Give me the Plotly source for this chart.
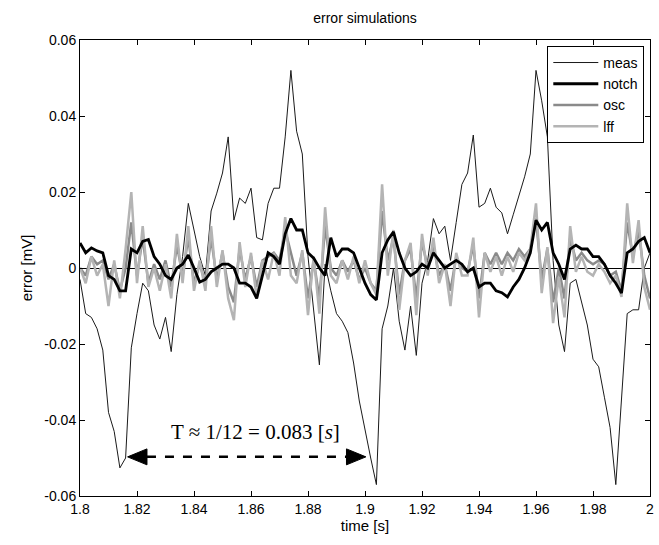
import numpy as np
import plotly.graph_objects as go

# ---------------- data ----------------
t0, dt, n = 1.8, 0.002, 101
time = [round(t0 + dt * k, 3) for k in range(n)]

meas = [-0.003, -0.012, -0.013, -0.016, -0.0216, -0.038, -0.043, -0.0526, -0.050, -0.021,
        -0.012, -0.004, -0.006, -0.015, -0.0187, -0.013, -0.022, -0.007, 0.003, 0.017,
        0.010, 0.003, -0.002, 0.015, 0.0197, 0.025, 0.0345, 0.0126, 0.0184, 0.017,
        0.021, 0.008, 0.0074, 0.017, 0.021, 0.021, 0.0345, 0.052, 0.036, 0.030,
        0.003, -0.012, -0.0255, 0.001, -0.006, -0.012, -0.014, -0.017, -0.025, -0.035,
        -0.043, -0.050, -0.057, -0.016, -0.010, 0.000, -0.014, -0.0216, -0.010, -0.023,
        -0.004, 0.002, 0.013, 0.009, 0.011, 0.002, 0.012, 0.022, 0.025, 0.035,
        0.016, 0.017, 0.021, 0.016, 0.0145, 0.009, 0.014, 0.019, 0.024, 0.030,
        0.052, 0.044, 0.0345, 0.002, -0.015, -0.022, -0.004, -0.003, -0.009, -0.015,
        -0.024, -0.026, -0.034, -0.042, -0.057, -0.035, -0.012, -0.011, -0.011, 0.000,
        0.004]

notch = [0.0066, 0.004, 0.0053, 0.0045, 0.004, -0.002, -0.003, -0.006, -0.006, 0.005,
         0.004, 0.007, 0.0075, 0.003, 0.001, -0.002, -0.003, 0.000, 0.001, 0.0034,
         0.000, -0.0037, -0.003, -0.001, 0.000, 0.001, 0.001, 0.000, -0.004, -0.004,
         -0.005, -0.008, -0.002, 0.004, 0.003, 0.001, 0.009, 0.013, 0.010, 0.010,
         0.004, 0.0026, 0.000, -0.002, 0.008, 0.003, 0.005, 0.005, 0.004, 0.000,
         -0.004, -0.007, -0.0084, 0.004, 0.0074, 0.0095, 0.004, 0.000, -0.002, -0.001,
         0.001, 0.000, 0.004, 0.002, 0.000, 0.001, 0.002, 0.001, -0.001, 0.000,
         -0.005, -0.004, -0.004, -0.006, -0.0065, -0.0076, -0.005, -0.003, 0.000, 0.004,
         0.0126, 0.010, 0.012, 0.004, 0.001, -0.003, 0.005, 0.006, 0.005, 0.005,
         0.003, 0.003, 0.001, -0.002, -0.004, -0.0066, 0.004, 0.005, 0.007, 0.008,
         0.004]

osc = [0.000, -0.002, 0.003, 0.001, 0.002, -0.003, 0.001, -0.006, 0.000, 0.012,
       -0.002, 0.008, -0.004, 0.001, -0.003, 0.002, -0.005, 0.006, -0.002, 0.008,
       -0.004, 0.001, -0.004, 0.008, -0.003, 0.004, -0.005, -0.009, 0.005, -0.003,
       0.003, -0.005, 0.002, 0.003, 0.004, 0.002, 0.010, 0.004, -0.002, 0.004,
       -0.008, 0.002, -0.008, 0.011, 0.000, -0.002, 0.002, -0.001, 0.002, -0.003,
       0.000, -0.004, -0.006, 0.015, 0.002, 0.008, -0.007, 0.002, 0.005, -0.008,
       0.007, 0.000, 0.006, -0.002, 0.001, -0.006, 0.003, 0.000, -0.001, 0.006,
       -0.008, 0.004, 0.001, 0.004, 0.001, 0.004, 0.002, 0.005, 0.003, 0.005,
       0.013, -0.003, 0.005, -0.009, 0.000, -0.008, 0.008, 0.002, 0.004, 0.002,
       0.001, 0.002, 0.001, -0.002, -0.001, -0.006, 0.012, 0.003, 0.010, -0.002,
       -0.008]

lff = [0.000, -0.004, 0.003, -0.002, 0.001, -0.010, 0.002, -0.008, 0.005, 0.020,
       -0.004, 0.011, -0.005, 0.000, -0.006, 0.001, -0.008, 0.009, -0.004, 0.011,
       -0.006, 0.002, -0.006, 0.011, -0.005, 0.0047, -0.008, -0.0137, 0.0068, -0.005,
       0.004, -0.008, 0.002, -0.003, 0.004, -0.002, 0.0134, -0.002, -0.004, 0.0047,
       -0.0124, 0.003, -0.012, 0.016, -0.002, -0.004, 0.002, -0.003, 0.003, -0.004,
       0.002, -0.004, -0.007, 0.022, -0.002, 0.010, -0.011, 0.002, 0.0066, -0.0124,
       0.009, -0.002, 0.008, -0.004, 0.001, -0.010, 0.004, -0.002, -0.002, 0.008,
       -0.013, 0.004, -0.001, 0.003, -0.002, 0.003, -0.001, 0.004, 0.002, 0.005,
       0.017, -0.0066, 0.0055, -0.0145, -0.0024, -0.013, 0.011, -0.001, 0.003, -0.001,
       -0.002, 0.001, -0.001, -0.004, -0.002, -0.0076, 0.017, 0.0013, 0.0126, -0.005,
       -0.011]

x_ticks = [1.8, 1.82, 1.84, 1.86, 1.88, 1.9, 1.92, 1.94, 1.96, 1.98, 2.0]
x_labels = ["1.8", "1.82", "1.84", "1.86", "1.88", "1.9", "1.92", "1.94", "1.96", "1.98", "2"]
y_ticks = [-0.06, -0.04, -0.02, 0, 0.02, 0.04, 0.06]
y_labels = ["-0.06", "-0.04", "-0.02", "0", "0.02", "0.04", "0.06"]

# period annotation
arrow_left, arrow_right, arrow_y = 1.8167, 1.9003, -0.0497
label_x, label_y = 1.8615, -0.0432

# ---------------- figure ----------------
fig = go.Figure()
fig.add_trace(go.Scatter(x=time, y=meas, mode="lines", name="meas", legendrank=1,
                         line=dict(color="#1a1a1a", width=1)))
fig.add_trace(go.Scatter(x=time, y=osc, mode="lines", name="osc", legendrank=3,
                         line=dict(color="#8a8a8a", width=2.5)))
fig.add_trace(go.Scatter(x=time, y=lff, mode="lines", name="lff", legendrank=4,
                         line=dict(color="#b4b4b4", width=2.5)))
fig.add_trace(go.Scatter(x=time, y=notch, mode="lines", name="notch", legendrank=2,
                         line=dict(color="#000000", width=2.8)))

# dashed double arrow
hx, hy = 0.0068, 0.0021
fig.add_shape(type="line", x0=arrow_left + hx, x1=arrow_right - hx, y0=arrow_y, y1=arrow_y,
              xref="x", yref="y", line=dict(color="black", width=2.5, dash="dash"))
fig.add_shape(type="path", xref="x", yref="y", fillcolor="black", line=dict(color="black", width=1),
              path=f"M {arrow_left} {arrow_y} L {arrow_left + hx} {arrow_y + hy} L {arrow_left + hx} {arrow_y - hy} Z")
fig.add_shape(type="path", xref="x", yref="y", fillcolor="black", line=dict(color="black", width=1),
              path=f"M {arrow_right} {arrow_y} L {arrow_right - hx} {arrow_y + hy} L {arrow_right - hx} {arrow_y - hy} Z")
fig.add_annotation(x=label_x, y=label_y, xref="x", yref="y", showarrow=False,
                   text="T ≈ 1/12 = 0.083 [<i>s</i>]",
                   font=dict(family="Liberation Serif, Times New Roman, serif", size=21, color="black"))

sans = "Liberation Sans, Arial, sans-serif"
axis_common = dict(showline=True, linecolor="black", linewidth=1, mirror="ticks",
                   ticks="inside", ticklen=5, tickcolor="black", showgrid=False,
                   tickfont=dict(family=sans, size=14, color="black"))

fig.update_layout(
    width=659, height=545,
    margin=dict(l=80, r=5, t=40, b=49),
    paper_bgcolor="white", plot_bgcolor="white",
    title=dict(text="error simulations", x=0.5, xref="paper", y=0.967, yanchor="middle",
               font=dict(family=sans, size=14, color="black")),
    xaxis=dict(range=[1.8, 2.0], tickvals=x_ticks, ticktext=x_labels,
               title=dict(text="time [s]", standoff=4, font=dict(family=sans, size=15, color="black")),
               zeroline=False, **axis_common),
    yaxis=dict(range=[-0.06, 0.06], tickvals=y_ticks, ticktext=y_labels,
               title=dict(text="error [mV]", standoff=8, font=dict(family=sans, size=15, color="black")),
               zeroline=True, zerolinecolor="black", zerolinewidth=1, **axis_common),
    legend=dict(x=0.99, y=0.987, xanchor="right", yanchor="top",
                bgcolor="white", bordercolor="black", borderwidth=1,
                font=dict(family=sans, size=14, color="black"),
                tracegroupgap=0, itemwidth=45),
    showlegend=True,
)

fig.write_html("out.html")
